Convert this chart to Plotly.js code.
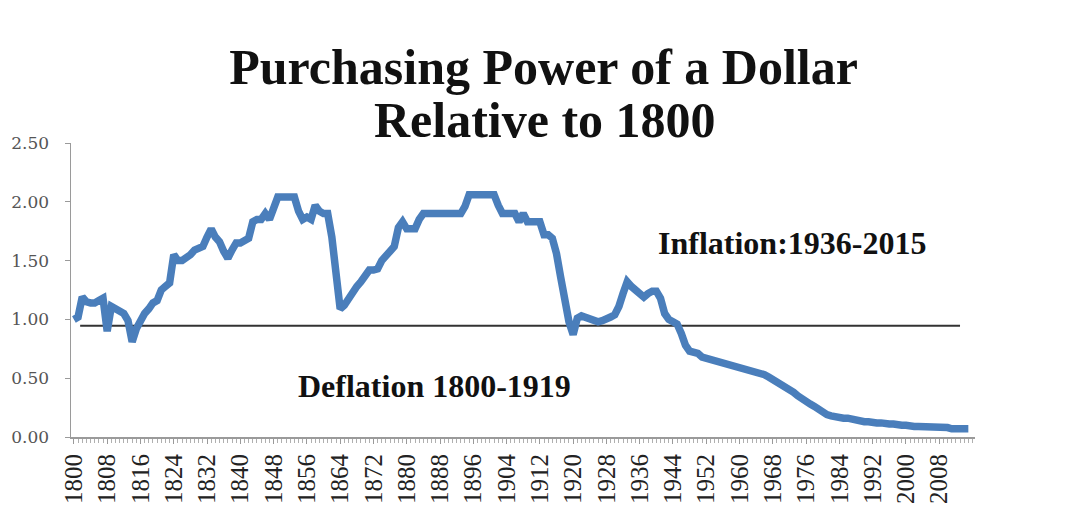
<!DOCTYPE html>
<html>
<head>
<meta charset="utf-8">
<script src="https://cdn.plot.ly/plotly-3.0.1.min.js"></script>
<style>html,body{margin:0;padding:0;background:#fff;}#chart{width:1070px;height:518px;}</style>
</head>
<body>
<div id="chart"></div>
<script>
// Years 1800..2015 and purchasing power relative to 1800
const years = [];
for (let y = 1800; y <= 2015; y++) years.push(y);

const power = [
  1.00,1.02,1.19,1.15,1.14,1.14,1.16,1.18,0.90,1.11, // 1800-1809
  1.09,1.07,1.05,0.99,0.81,0.92,0.99,1.05,1.09,1.14, // 1810-1819
  1.16,1.25,1.28,1.31,1.55,1.50,1.50,1.52,1.55,1.59, // 1820-1829
  1.60,1.62,1.70,1.77,1.70,1.66,1.58,1.52,1.59,1.65, // 1830-1839
  1.65,1.68,1.69,1.83,1.85,1.85,1.90,1.85,1.95,2.04, // 1840-1849
  2.04,2.04,2.04,2.04,1.92,1.85,1.87,1.85,1.97,1.92, // 1850-1859
  1.90,1.90,1.70,1.38,1.09,1.12,1.18,1.23,1.28,1.32, // 1860-1869
  1.36,1.42,1.42,1.43,1.50,1.55,1.58,1.62,1.78,1.83, // 1870-1879
  1.77,1.77,1.77,1.85,1.90,1.90,1.90,1.90,1.90,1.90, // 1880-1889
  1.90,1.90,1.90,1.90,1.96,2.06,2.06,2.06,2.06,2.06, // 1890-1899
  2.06,2.06,1.97,1.90,1.90,1.90,1.90,1.83,1.90,1.83, // 1900-1909
  1.83,1.83,1.83,1.72,1.72,1.69,1.56,1.36,1.16,0.98, // 1910-1919
  0.87,1.01,1.03,1.02,1.00,0.99,0.98,0.99,1.00,1.02, // 1920-1929
  1.04,1.11,1.22,1.32,1.28,1.25,1.22,1.19,1.22,1.24, // 1930-1939
  1.24,1.18,1.05,1.00,0.98,0.96,0.88,0.78,0.73,0.72, // 1940-1949
  0.71,0.68,0.67,0.66,0.65,0.65,0.64,0.63,0.61,0.61, // 1950-1959
  0.60,0.59,0.58,0.57,0.56,0.55,0.53,0.51,0.49,0.47, // 1960-1969
  0.44,0.42,0.40,0.38,0.35,0.32,0.30,0.28,0.26,0.23, // 1970-1979
  0.21,0.19,0.18,0.17,0.17,0.16,0.16,0.15,0.15,0.14, // 1980-1989
  0.13,0.13,0.12,0.12,0.12,0.11,0.11,0.11,0.10,0.10, // 1990-1999
  0.10,0.09,0.09,0.09,0.09,0.08,0.08,0.08,0.08,0.08, // 2000-2009
  0.08,0.07,0.07,0.07,0.07,0.07                      // 2010-2015
];

const tickYears = [1800,1808,1816,1824,1832,1840,1848,1856,1864,1872,1880,1888,1896,1904,1912,1920,1928,1936,1944,1952,1960,1968,1976,1984,1992,2000,2008];
const tickLabels = tickYears.map(String);
const yTickVals = [0,0.5,1,1.5,2,2.5];
const yTickText = ["0.00","0.50","1.00","1.50","2.00","2.50"];

// Dividing line between the deflation and inflation regions
const refX = [1801.5, 2013];
const refY = [0.945, 0.945];

const titleLine1 = "Purchasing Power of a Dollar";
const titleLine2 = "Relative to 1800";
const noteInflation = {text: "Inflation:1936-2015", x: 1940, y: 1.65};
const noteDeflation = {text: "Deflation 1800-1919", x: 1853.4, y: 0.43};

const titleFont = {family: 'Liberation Serif, serif', size: 50, color: '#111111', weight: 'bold'};
const noteFont = {family: 'Liberation Serif, serif', size: 32, color: '#111111', weight: 'bold'};

const traces = [
  {x: refX, y: refY, type: 'scatter', mode: 'lines',
   line: {color: '#333333', width: 2}, hoverinfo: 'skip', showlegend: false},
  {x: years, y: power, type: 'scatter', mode: 'lines',
   line: {color: '#4a7ebb', width: 7.5, shape: 'linear'}, showlegend: false}
];

const layout = {
  width: 1070, height: 518,
  margin: {l: 71, r: 95, t: 143, b: 81},
  paper_bgcolor: '#ffffff', plot_bgcolor: '#ffffff',
  title: {text: titleLine1, x: 0.508, xanchor: 'center', yref: 'container', y: 0.872, yanchor: 'middle',
          font: titleFont},
  xaxis: {
    range: [1799.3, 2016.6], showgrid: false, zeroline: false,
    showline: true, linecolor: '#9a9a9a', linewidth: 2,
    tickmode: 'array', tickvals: tickYears, ticktext: tickLabels, tickangle: -90,
    ticks: 'outside', ticklen: 5, tickcolor: '#9a9a9a',
    minor: {dtick: 1, tick0: 1800, ticks: 'outside', ticklen: 4, tickcolor: '#b0b0b0', showgrid: false},
    tickfont: {family: 'Liberation Serif, serif', size: 25, color: '#222222'}
  },
  yaxis: {
    range: [0, 2.5], showgrid: false, zeroline: false,
    showline: true, linecolor: '#9a9a9a', linewidth: 1.5,
    tickmode: 'array', tickvals: yTickVals, ticktext: yTickText,
    ticks: 'outside', ticklen: 5, tickcolor: '#9a9a9a', ticklabelstandoff: 12,
    tickfont: {family: 'DejaVu Serif, serif', size: 17, color: '#555555'}
  },
  annotations: [
    {x: 0.524, y: 1.078, xref: 'paper', yref: 'paper', text: titleLine2,
     showarrow: false, xanchor: 'center', yanchor: 'middle', font: titleFont},
    {x: noteInflation.x, y: noteInflation.y, xref: 'x', yref: 'y', text: noteInflation.text,
     showarrow: false, xanchor: 'left', yanchor: 'middle', font: noteFont},
    {x: noteDeflation.x, y: noteDeflation.y, xref: 'x', yref: 'y', text: noteDeflation.text,
     showarrow: false, xanchor: 'left', yanchor: 'middle', font: noteFont}
  ]
};

Plotly.newPlot('chart', traces, layout, {displayModeBar: false, staticPlot: true});
</script>
</body>
</html>
